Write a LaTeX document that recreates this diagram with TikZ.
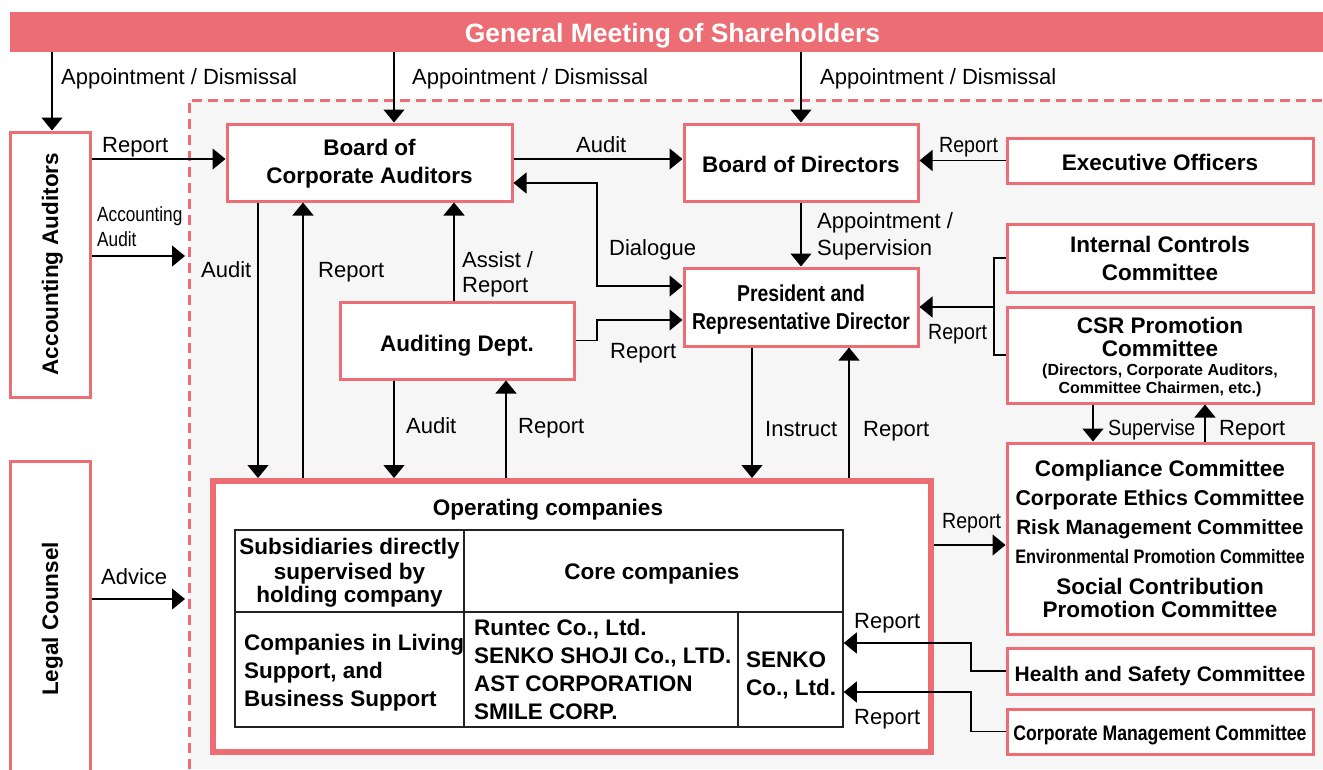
\documentclass[tikz,border=0pt]{standalone}
\usepackage{fontspec}
\setmainfont{Liberation Sans}
\newfontfamily\cnd[FakeStretch=0.84]{Liberation Sans}
\newfontfamily\cnl[FakeStretch=0.89]{Liberation Sans}
\usetikzlibrary{arrows.meta}
\definecolor{pk}{HTML}{EC6E74}
\definecolor{bgc}{HTML}{F5F6F5}
\definecolor{tl}{HTML}{222222}
\newcommand\fsz[2]{\fontsize{#1}{#2}\selectfont}
\begin{document}
\begin{tikzpicture}[x=1pt,y=-1pt,
 box/.style={draw=pk, line width=3pt, fill=white, inner sep=0pt},
 bt/.style={inner sep=0pt, font=\bfseries\fsz{22.5}{27}, text height=16.1pt, text depth=0pt},
 lbl/.style={inner sep=0pt, anchor=west, font=\fsz{22}{26}, text height=15.8pt, text depth=0pt},
 clbl/.style={lbl, font=\cnl\fsz{22}{26}},
 arr/.style={line width=1.3pt, -{Triangle[width=21pt,length=13pt]}},
 darr/.style={line width=1.3pt, {Triangle[width=21pt,length=13pt]}-{Triangle[width=21pt,length=13pt]}},
 cl/.style={line width=1.3pt},
 tline/.style={draw=tl, line width=1.5pt}]
\useasboundingbox (0,0) rectangle (1323,769);
\fill[white] (0,0) rectangle (1323,769);
\fill[bgc] (189,100) rectangle (1323,769);
\draw[pk, line width=3pt, dash pattern=on 10pt off 6pt] (189,769) -- (189,100) -- (1323,100);

% banner
\node[fill=pk, minimum width=1325pt, minimum height=40pt, inner sep=0pt] (banner) at (672.5,32) {};
\node[bt, text=white, font=\bfseries\fsz{26.5}{30}, text height=19pt] (bannertxt) at (672.5,33) {General Meeting of Shareholders};

% left boxes
\node[box, minimum width=80pt, minimum height=265pt] (acc) at (50,264.5) {};
\node[bt, rotate=90] (acctxt) at (50,264) {Accounting Auditors};
\node[box, minimum width=80pt, minimum height=312pt] (legal) at (50,617) {};
\node[bt, rotate=90] (legaltxt) at (50,619) {Legal Counsel};

% main boxes
\node[box, minimum width=285pt, minimum height=77pt] (bca) at (369.5,162.5) {};
\node[bt] (bca1) at (369.5,147.5) {Board of};
\node[bt] (bca2) at (369.5,175) {Corporate Auditors};

\node[box, minimum width=234pt, minimum height=77pt] (bod) at (801,162.5) {};
\node[bt] (bodt) at (801,164) {Board of Directors};

\node[box, minimum width=306pt, minimum height=45pt] (exec) at (1160,160.5) {};
\node[bt] (exect) at (1160,162) {Executive Officers};

\node[box, minimum width=306pt, minimum height=68pt] (icc) at (1160,258) {};
\node[bt] (icc1) at (1160,244) {Internal Controls};
\node[bt] (icc2) at (1160,272) {Committee};

\node[box, minimum width=306pt, minimum height=96pt] (csr) at (1160,355) {};
\node[bt] (csr1) at (1160,325) {CSR Promotion};
\node[bt] (csr2) at (1160,348) {Committee};
\node[bt, font=\bfseries\fsz{16}{19}, text height=11.5pt] (csr3) at (1160,370) {(Directors, Corporate Auditors,};
\node[bt, font=\bfseries\fsz{16}{19}, text height=11.5pt] (csr4) at (1160,388) {Committee Chairmen, etc.)};

\node[box, minimum width=234pt, minimum height=78pt] (pres) at (801,307) {};
\node[bt, font=\cnd\bfseries\fsz{23}{27}] (pres1) at (801,293.5) {President and};
\node[bt, font=\cnd\bfseries\fsz{23}{27}] (pres2) at (801,321) {Representative Director};

\node[box, minimum width=234pt, minimum height=77pt] (aud) at (457,340.5) {};
\node[bt] (audt) at (457,343) {Auditing Dept.};

% operating companies
\node[box, line width=6pt, minimum width=718pt, minimum height=271pt] (ops) at (572,616.5) {};
\node[bt] (opst) at (548,507.5) {Operating companies};
\node[tline, minimum width=608pt, minimum height=197pt, inner sep=0pt] (tbl) at (539,628.5) {};
\draw[tline] ([yshift=16.5pt]tbl.west) -- ([yshift=16.5pt]tbl.east);
\draw[tline] ([xshift=-75pt]tbl.north) -- ([xshift=-75pt]tbl.south);
\coordinate (tc) at ([xshift=199pt]tbl.south);
\draw[tline] (tc) -- (tc |- 0,612);
\node[bt] (sub1) at (349.5,546) {Subsidiaries directly};
\node[bt] (sub2) at (349.5,571) {supervised by};
\node[bt] (sub3) at (349.5,594.5) {holding company};
\node[bt] (core) at (652,571) {Core companies};
\node[bt, anchor=west] (liv1) at (244,642) {Companies in Living};
\node[bt, anchor=west] (liv2) at (244,670) {Support, and};
\node[bt, anchor=west] (liv3) at (244,698) {Business Support};
\node[bt, anchor=west] (rc1) at (474,627) {Runtec Co., Ltd.};
\node[bt, anchor=west] (rc2) at (474,655) {SENKO SHOJI Co., LTD.};
\node[bt, anchor=west] (rc3) at (474,683.5) {AST CORPORATION};
\node[bt, anchor=west] (rc4) at (474,711) {SMILE CORP.};
\node[bt, anchor=west] (sk1) at (746,659) {SENKO};
\node[bt, anchor=west] (sk2) at (746,687.5) {Co., Ltd.};

% committees
\node[box, minimum width=306pt, minimum height=191pt] (comp) at (1160,538.5) {};
\node[bt] (cp1) at (1160,468.5) {Compliance Committee};
\node[bt, font=\bfseries\fsz{21.4}{26}, text height=15.3pt] (cp2) at (1160,497.5) {Corporate Ethics Committee};
\node[bt, font=\bfseries\fsz{20.6}{26}, text height=14.8pt] (cp3) at (1160,527.5) {Risk Management Committee};
\node[bt, font=\cnd\bfseries\fsz{19.5}{24}, text height=14pt] (cp4) at (1160,556) {Environmental Promotion Committee};
\node[bt] (cp5) at (1160,586) {Social Contribution};
\node[bt] (cp6) at (1160,609.5) {Promotion Committee};

\node[box, minimum width=306pt, minimum height=46pt] (hs) at (1160,671) {};
\node[bt, font=\bfseries\fsz{21}{25}, text height=15pt] (hst) at (1160,673.5) {Health and Safety Committee};
\node[box, minimum width=306pt, minimum height=45pt] (cm) at (1160,731.5) {};
\node[bt, font=\cnd\bfseries\fsz{21}{25}, text height=15pt] (cmt) at (1160,732.5) {Corporate Management Committee};

% helper coordinates
\coordinate (accN) at ([xshift=2pt]acc.north);
\coordinate (bcaN) at ([xshift=24.5pt]bca.north);
\coordinate (bcaW) at ([yshift=3.5pt]bca.west);
\coordinate (aaEnd) at (185,256);
\coordinate (advEnd) at (185,599);
\coordinate (dx) at (597,0);
\coordinate (bx) at (994,0);
\coordinate (hx) at (971,0);
\coordinate (dA) at ([yshift=-20.5pt]bca.east);
\coordinate (dB) at ([yshift=21pt]pres.west);
\coordinate (rB) at ([yshift=-13pt]pres.west);
\coordinate (aN) at ([xshift=-3pt]aud.north);
\coordinate (b1) at ([xshift=-111.5pt]bca.south);
\coordinate (b2) at ([xshift=-66.5pt]bca.south);
\coordinate (a1) at ([xshift=-63pt]aud.south);
\coordinate (a2) at ([xshift=49pt]aud.south);
\coordinate (p1) at ([xshift=-49pt]pres.south);
\coordinate (p2) at ([xshift=48pt]pres.south);
\coordinate (s1) at ([xshift=-67pt]csr.south);
\coordinate (s2) at ([xshift=45pt]csr.south);
\coordinate (oc) at ([yshift=-6.5pt]comp.west);
\coordinate (hB) at ([yshift=-14.5pt]tbl.east);
\coordinate (cB) at ([yshift=-63.5pt]tbl.east);

% connectors
\draw[arr] (banner.south -| accN) -- (accN);
\draw[arr] (banner.south -| bcaN) -- (bcaN);
\draw[arr] (banner.south -| bod.north) -- (bod.north);
\draw[arr] (acc.east |- bcaW) -- (bcaW);
\draw[arr] (acc.east |- aaEnd) -- (aaEnd);
\draw[arr] (legal.east |- advEnd) -- (advEnd);
\draw[arr] ([yshift=3.5pt]bca.east) -- ([yshift=3.5pt]bod.west);
\draw[arr] (exec.west) -- (exec.west -| bod.east);
\draw[arr] (bod.south) -- (pres.north);
\draw[darr] (dA) -- (dA -| dx) -- (dB -| dx) -- (dB);
\draw[arr] (aud.east) -- (aud.east -| dx) -- (rB -| dx) -- (rB);
\draw[arr] (aN) -- (aN |- bca.south);
\draw[arr] (b1) -- (b1 |- ops.north);
\draw[arr] (b2 |- ops.north) -- (b2);
\draw[arr] (a1) -- (a1 |- ops.north);
\draw[arr] (a2 |- ops.north) -- (a2);
\draw[arr] (p1) -- (p1 |- ops.north);
\draw[arr] (p2 |- ops.north) -- (p2);
\draw[cl] (icc.west) -- (icc.west -| bx) -- (csr.west -| bx) -- (csr.west);
\draw[arr] (pres.east -| bx) -- (pres.east);
\draw[arr] (s1) -- (s1 |- comp.north);
\draw[arr] (s2 |- comp.north) -- (s2);
\draw[arr] (oc -| ops.east) -- (oc);
\draw[arr] (hs.west) -- (hs.west -| hx) -- (hB -| hx) -- (hB);
\draw[arr] (cm.west) -- (cm.west -| hx) -- (cB -| hx) -- (cB);

% labels
\node[lbl] (l1) at (61,77) {Appointment / Dismissal};
\node[lbl] (l2) at (412,77) {Appointment / Dismissal};
\node[lbl] (l3) at (820,77) {Appointment / Dismissal};
\node[lbl] (l4) at (102,144.5) {Report};
\node[lbl, font=\cnd\fsz{20.5}{24}, text height=14.7pt] (l5) at (97,214.5) {Accounting};
\node[lbl, font=\cnd\fsz{20.5}{24}, text height=14.7pt] (l6) at (97,239.5) {Audit};
\node[lbl] (l7) at (201,269.5) {Audit};
\node[lbl] (l8) at (318,269.5) {Report};
\node[lbl] (l9) at (576,145) {Audit};
\node[lbl] (l10) at (609,247.5) {Dialogue};
\node[lbl] (l11) at (462,259.5) {Assist /};
\node[lbl] (l12) at (462,284.5) {Report};
\node[lbl] (l13) at (610,350.5) {Report};
\node[lbl] (l14) at (817,220.5) {Appointment /};
\node[lbl] (l15) at (817,247.5) {Supervision};
\node[clbl] (l16) at (939,144.5) {Report};
\node[clbl] (l17) at (928,331.5) {Report};
\node[lbl] (l18) at (406,425.5) {Audit};
\node[lbl] (l19) at (518,425.5) {Report};
\node[lbl] (l20) at (765,429) {Instruct};
\node[lbl] (l21) at (863,429) {Report};
\node[clbl] (l22) at (942,521) {Report};
\node[lbl] (l23) at (854,620.5) {Report};
\node[lbl] (l24) at (854,716.5) {Report};
\node[clbl] (l25) at (1108,427.5) {Supervise};
\node[lbl] (l26) at (1219,427.5) {Report};
\node[lbl] (l27) at (101,577) {Advice};
\end{tikzpicture}
\end{document}
